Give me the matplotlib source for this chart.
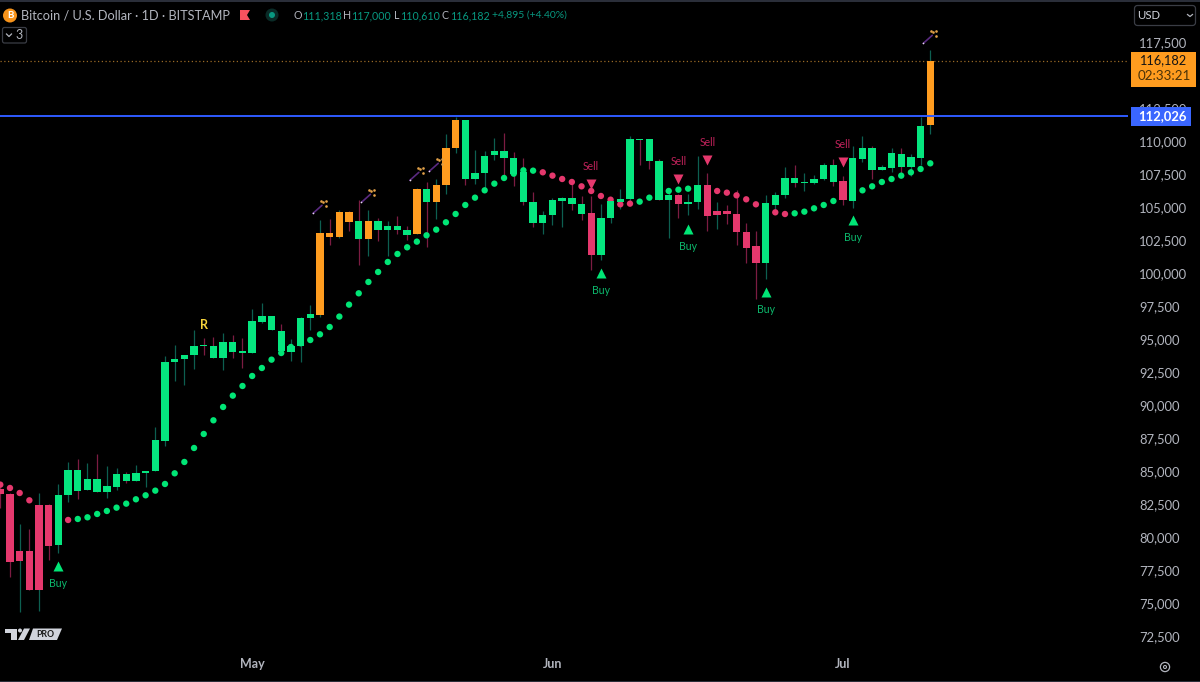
import numpy as np
import matplotlib
matplotlib.use("Agg")
import matplotlib.pyplot as plt
from matplotlib.patches import Rectangle, Circle, FancyBboxPatch, Polygon
from matplotlib.transforms import ScaledTranslation

plt.rcParams['font.family'] = ['Lato', 'DejaVu Sans']

body_top = [83764,83385,79042,79042,82552,82501,83259,85178,85178,84521,84521,83941,84875,84875,84925,85127,87425,93384,93611,93914,
94596,94621,94546,94899,94899,94167,96465,96818,96818,95707,94596,96717,96970,103158,103158,104723,104723,104016,104016,104016,
103688,103688,103385,106440,106440,106743,109596,111667,111667,107677,108990,109344,109344,108839,107753,105456,104521,105632,105809,105809,
105304,104622,104269,105531,105682,110227,110227,110227,108561,105985,106010,105506,106743,106743,104824,104824,104571,103208,102122,105379,
105985,107298,107298,106995,107248,108308,108308,107071,108788,109546,109546,108106,109167,109091,108864,111212,116182]
body_bot = [83335,78209,78284,76113,76113,79395,79471,83259,83612,83662,83536,83486,83915,84319,84319,84950,85077,87375,93334,93561,
93889,94571,93636,93636,94141,94066,94066,96414,95808,94167,94141,94546,96692,96894,102855,102855,103966,102678,102678,103360,
103360,103360,102981,103031,105456,105456,106768,109571,107198,107198,107652,109016,108814,107627,105481,103915,103865,104471,105531,105329,
104597,101441,101441,104294,105480,105682,110176,108561,105607,105607,105354,105354,105480,104420,104470,104546,103182,101996,100885,100834,
105278,105985,106894,106945,106945,107197,106995,105607,105531,108737,107879,107879,108081,108132,108132,108813,111318]
high = [84016,83435,81112,80734,83461,82627,84142,85809,85986,85683,86365,85455,85355,85001,85531,85127,88435,93788,94621,93914,
95808,95177,95252,95556,95379,95177,97399,97828,96818,96212,95101,96767,97651,104092,104218,104900,104799,105658,104900,104294,
104067,104446,103663,106567,106996,107248,110657,111920,111667,109395,109319,110354,110733,109243,108839,106264,104824,105809,105860,106920,
105961,105910,105355,105860,106440,110454,110227,110278,108738,106490,106111,106061,108939,107677,105455,105228,106414,103915,103283,105985,
106238,108131,108258,107702,107500,108434,108763,107450,109697,110454,109722,108308,109596,109596,109091,111919,117000]
low = [82325,77072,74396,76113,74497,78335,78890,82754,82981,83662,83536,83031,83662,84193,84319,83915,85077,86996,91894,91642,
92803,93864,93636,92778,93687,92904,94066,96313,95808,93864,93460,93334,95758,96800,102249,102754,103309,100683,101365,102552,
101365,103031,102602,103031,102072,104168,106061,109192,106768,106819,106364,108687,107374,106693,105279,103587,103057,103739,103587,104850,
104142,100305,101062,103915,104975,105354,108308,108005,105607,102753,104293,104470,104975,103309,103435,103839,102248,100885,98158,99647,
104596,105783,106591,106288,106818,107147,106667,105228,105026,108510,107197,107879,107753,107500,107450,108258,110610]

orange_bars = [33,34,35,36,38,43,45,46,47,96]
red_bars = [0,1,2,3,4,5,61,70,73,74,75,76,77,78,87]
red_wicks = [0,1,3,5,8,10,13,21,22,24,25,29,34,36,37,39,41,42,44,48,52,53,54,55,59,60,61,66,67,68,70,73,75,76,77,78,82,86,87,90,93]

trail = [84067,83814,83435,82880,np.nan,np.nan,np.nan,81390,81466,81592,81845,82072,82324,82627,82956,83259,83612,84117,84925,85784,
86844,87905,88940,89950,90809,91541,92298,92904,93535,94040,94494,94780,95025,95455,96010,96800,97704,98562,99421,100178,
100936,101542,102047,102476,102956,103385,103941,104572,105253,105809,106364,106870,107299,107627,107880,107854,107728,107476,107223,106996,
106667,106314,105935,105657,105303,105354,105506,105808,106112,106314,106414,106490,106490,106414,106314,106187,105985,105682,105303,104975,
104697,104571,104622,104748,105000,105253,105556,105910,106162,106364,106667,106995,107222,107475,107727,107980,108409]
trail_red = [0,1,2,3,7] + list(range(56,66)) + list(range(72,82))

buy_idx = [6,62,71,79,88]
buy_price = [77878,100075,103409,98636,104091]
sell_idx = [61,70,73,87]
sell_price = [106818,107197,108636,108485]
wand_idx = [33,38,43,45,96]
wand_price = [105076,105909,107576,108258,117955]
r_idx = [21]
r_price = [96136]

last_price = 116182
level_price = 112026
y_ticks = list(range(72500, 120000, 2500))
month_idx = [26,57,87]
month_names = ["May","Jun","Jul"]

W, H = 1200, 682
PLOT_R, PLOT_B = 1128, 650
C_UP, C_DN, C_OR = "#05e67f", "#e5386d", "#ff9c1f"
C_WT, C_WR = "#0d5f50", "#7c1c42"
C_TXT = "#b2b5be"

fig = plt.figure(figsize=(W/100, H/100), dpi=100, facecolor="black")
ax = fig.add_axes([0, 1-PLOT_B/H, PLOT_R/W, PLOT_B/H], facecolor="black")
n = len(high)
idx = np.arange(n)
ax.set_xlim(-0.031, 116.41)
ax.set_ylim(71539, 120783)
for s in ax.spines.values():
    s.set_visible(False)

ax.vlines(idx, low, high, colors=[C_WR if i in red_wicks else C_WT for i in idx], lw=0.9, zorder=2)
colors = [C_DN if i in trail_red else "#00e676" for i in range(n)]
ax.scatter(idx, np.array(trail, float), s=21, c=colors, linewidths=0, zorder=3)
bar_colors = [C_OR if i in orange_bars else C_DN if i in red_bars else C_UP for i in idx]
ax.bar(idx, np.array(body_top)-np.array(body_bot), bottom=body_bot, width=0.76,
       color=bar_colors, linewidth=0, zorder=4)

ax.axhline(last_price, color="#9a6a26", lw=0.9, ls=(0, (1, 2)), zorder=1)
ax.axhline(level_price, color="#2f5bff", lw=1.4, zorder=5)

px = (ax.get_xlim()[1]-ax.get_xlim()[0])/PLOT_R
py = (ax.get_ylim()[1]-ax.get_ylim()[0])/PLOT_B

ax.plot(buy_idx, buy_price, ls="", marker="^", ms=7.2, mec="none", mfc="#00e676", zorder=6)
ax.plot(sell_idx, sell_price, ls="", marker="v", ms=7.2, mec="none", mfc="#e5386d", zorder=6)
for i, p in zip(buy_idx, buy_price):
    ax.annotate("Buy", (i, p), xytext=(0, -12.3), textcoords="offset points", ha="center", va="center",
                fontsize=7.6, color="#0cb86c", zorder=6)
for i, p in zip(sell_idx, sell_price):
    ax.annotate("Sell", (i, p), xytext=(0, 13), textcoords="offset points", ha="center", va="center",
                fontsize=7.6, color="#c0225a", zorder=6)
for i, p in zip(r_idx, r_price):
    ax.text(i, p, "R", ha="center", va="center", fontsize=9, color="#f5d33b", fontweight="bold", zorder=6)

for i, p in zip(wand_idx, wand_price):
    ax.plot([i-7*px, i+2*px], [p-6*py, p+2*py], color="#5a2a80", lw=1.2, zorder=6, solid_capstyle="round")
    ax.plot([i-7*px], [p-6*py], ls="", marker="o", ms=1.2, mfc="#e8d9f0", mec="none", zorder=7)
    ax.plot([i+3*px, i+6*px, i+1*px, i+6*px], [p+5*py, p+1*py, p+6*py, p+6*py], ls="", marker="o",
            ms=1.9, mec="none", mfc="#e0a048", zorder=7)

ax.yaxis.tick_right()
ax.set_yticks(y_ticks)
ax.set_yticklabels(["" if v == 115000 else f"{v:,}" for v in y_ticks], fontsize=9.4, color=C_TXT)
ax.tick_params(axis="y", length=0, pad=8)
lift = ScaledTranslation(0, 1.2/100, fig.dpi_scale_trans)
for lab in ax.get_yticklabels():
    lab.set_transform(lab.get_transform() + lift)
ax.set_xticks(month_idx)
ax.set_xticklabels(month_names, fontsize=9, color=C_TXT, fontweight="bold")
ax.tick_params(axis="x", length=0, pad=6)

# overlay in picture coordinates for the TradingView furniture
ov = fig.add_axes([0, 0, 1, 1], facecolor="none", zorder=10)
ov.set_xlim(0, W)
ov.set_ylim(H, 0)
ov.axis("off")
ov.add_patch(Rectangle((0, 0), W, 1.6, fc="#2a2e39", ec="none"))
ov.add_patch(Rectangle((0, 680.6), W, 1.4, fc="#2a2e39", ec="none"))

ov.add_patch(Circle((10, 15.5), 7, fc="#f7931a", ec="none"))
ov.text(10, 15.5, "B", color="white", fontsize=7, fontweight="bold", ha="center", va="center")
ov.text(21, 15.5, "Bitcoin / U.S. Dollar · 1D · BITSTAMP", color=C_TXT, fontsize=9.2, ha="left", va="center")
ov.add_patch(Polygon([(240, 10), (250, 10), (247, 15), (250, 20), (240, 20)], fc="#f7525f", ec="none"))
ov.add_patch(Circle((272, 15), 6.5, fc="#0a2b27", ec="none"))
ov.add_patch(Circle((272, 15), 3, fc="#089981", ec="none"))

ohlc = [(293, 9, "O", "111,318"), (343, 8, "H", "117,000"), (394, 6, "L", "110,610"), (442, 8, "C", "116,182")]
for x, off, a, b in ohlc:
    ov.text(x, 15.5, a, color=C_TXT, fontsize=7.7, ha="left", va="center")
    ov.text(x+off, 15.5, b, color="#089981", fontsize=7.7, ha="left", va="center")
ov.text(492, 15.5, "+4,895 (+4.40%)", color="#089981", fontsize=7.5, ha="left", va="center")

ov.add_patch(FancyBboxPatch((2.5, 27.5), 24, 15.5, boxstyle="round,pad=0,rounding_size=2", fc="black", ec="#3a3d45", lw=0.9))
ov.plot([6.5, 9, 11.5], [34, 36.5, 34], color=C_TXT, lw=0.9)
ov.text(19, 35, "3", color=C_TXT, fontsize=9, ha="center", va="center")

ov.add_patch(FancyBboxPatch((1134.5, 5.5), 61, 20, boxstyle="round,pad=0,rounding_size=3", fc="black", ec="#3a3d45", lw=0.9))
ov.text(1137, 15.5, "USD", color="#d1d4dc", fontsize=8.2, ha="left", va="center")
ov.plot([1187.5, 1190, 1192.5], [14.5, 16.5, 14.5], color=C_TXT, lw=0.9)

ov.add_patch(Rectangle((1131, 52), 65, 35, fc=C_OR, ec="none"))
ov.text(1162.5, 60.5, f"{last_price:,}", color="#141414", fontsize=9.2, ha="center", va="center")
ov.text(1164, 76, "02:33:21", color="#4a3208", fontsize=9.6, ha="center", va="center")
ov.add_patch(Rectangle((1131, 107), 60, 19, fc="#3a66ff", ec="none"))
ov.text(1162, 116, f"{level_price:,}", color="white", fontsize=9.4, fontweight="bold", ha="center", va="center")

ov.add_patch(Polygon([(5, 628.5), (17, 628.5), (17, 640), (11, 640), (11, 633), (5, 633)], fc="#d1d4dc", ec="none"))
ov.add_patch(Circle((20, 630.5), 2, fc="#d1d4dc", ec="none"))
ov.add_patch(Polygon([(24, 628.5), (30, 628.5), (24, 640), (18, 640)], fc="#d1d4dc", ec="none"))
ov.add_patch(Polygon([(33, 628.5), (62, 628.5), (57, 640), (29, 640)], fc="#d1d4dc", ec="none"))
ov.text(45.5, 634.3, "PRO", color="#1a1a1a", fontsize=6.3, fontweight="bold", ha="center", va="center")

ov.add_patch(Circle((1165, 667), 4.6, fc="none", ec=C_TXT, lw=0.9))
ov.add_patch(Circle((1165, 667), 1.5, fc="none", ec=C_TXT, lw=0.8))

fig.savefig("out.png", dpi=100, facecolor="black")
